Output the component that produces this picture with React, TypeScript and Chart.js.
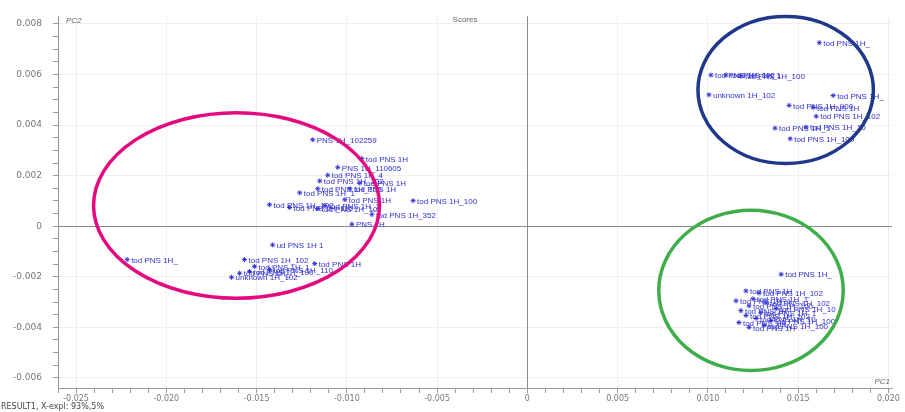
import React, { useEffect, useRef } from "react";
import { Chart, registerables } from "chart.js";

Chart.register(...registerables);

// ---- axis settings ----
const xMin = -0.026;
const xMax = 0.0202;
const yMin = -0.0064;
const yMax = 0.0083;
const xMajorStep = 0.005;
const xMinorStep = 0.001;
const yMajorStep = 0.002;
const yMinorStep = 0.0005;

// ---- left cluster ----
const leftX = [
  -0.01189, -0.00917, -0.0105, -0.01106, -0.0115, -0.00983, -0.01161, -0.00928, -0.01261,
  -0.01428, -0.01317, -0.01122, -0.01011, -0.00633, -0.00861, -0.00972, -0.01161,
  -0.01411, -0.02217, -0.01567, -0.01511, -0.01539, -0.01639, -0.01178, -0.01594, -0.01428,
];
const leftY = [
  0.00342, 0.00268, 0.00233, 0.00202, 0.00179, 0.00148, 0.00148, 0.00171, 0.00132,
  0.00085, 0.00074, 0.00082, 0.00105, 0.00101, 0.00047, 0.00008, 0.0007,
  -0.00074, -0.00132, -0.00132, -0.00159, -0.00179, -0.00202, -0.00148, -0.00186, -0.00171,
];
const leftLabels = [
  "PNS 1H_102259", "tod PNS 1H", "PNS 1H_110605", "tod PNS 1H_4", "tod PNS 1H_102", "tod PNS 1H",
  "tod PNS 1H_100", "tod PNS 1H", "tod PNS 1H_1", "tod PNS 1H_102", "tod PNS 1H_110", "tod PNS 1H_1",
  "tod PNS 1H", "tod PNS 1H_100", "tod PNS 1H_352", "PNS 1H", "tod PNS 1H_10",
  "ud PNS 1H 1", "tod PNS 1H_", "tod PNS 1H_102", "tod PNS 1H_1", "tod PNS 1H_100",
  "unknown 1H_102", "tod PNS 1H", "tod PNS 1H_", "tod PNS 1H_110",
];

// ---- upper-right cluster ----
const upperX = [0.01617, 0.01017, 0.011, 0.01183, 0.01006, 0.01694, 0.0145, 0.01583, 0.016, 0.01372, 0.01544, 0.01456];
const upperY = [0.00726, 0.00598, 0.00598, 0.00594, 0.0052, 0.00517, 0.00478, 0.0047, 0.00435, 0.00388, 0.00392, 0.00346];
const upperLabels = [
  "tod PNS 1H_", "tod PNS 1H_102", "tod PNS 1H_1", "tod PNS 1H_100", "unknown 1H_102", "tod PNS 1H_",
  "tod PNS 1H_900", "tod PNS 1H", "tod PNS 1H_102", "tod PNS 1H_1", "tod PNS 1H_10", "tod PNS 1H_100",
];

// ---- lower-right cluster ----
const lowerX = [
  0.01406, 0.01283, 0.0125, 0.01228, 0.01183, 0.01211, 0.01267, 0.01294, 0.0135, 0.01172,
  0.01228, 0.01322, 0.01156, 0.01311, 0.01211, 0.01378,
];
const lowerY = [
  -0.0019, -0.00264, -0.00287, -0.00315, -0.00334, -0.00353, -0.00365, -0.00342, -0.00373, -0.00381,
  -0.004, -0.00303, -0.00295, -0.00392, -0.00256, -0.00326,
];
const lowerLabels = [
  "tod PNS 1H_", "tod PNS 1H_102", "tod PNS 1H_1", "tod PNS 1H_100", "tod PNS 1H_", "tod PNS 1H_102",
  "tod PNS 1H_10", "tod PNS 1H_1", "tod PNS 1H_100", "tod PNS 1H_", "tod PNS 1H", "tod PNS 1H_102",
  "tod PNS 1H_1", "tod PNS 1H_100", "tod PNS 1H", "tod PNS 1H_10",
];

// ---- circled groups (centre / radius in data units) ----
const ellipseCx = [-0.01611, 0.01431, 0.01239];
const ellipseCy = [0.00082, 0.00539, -0.00254];
const ellipseRx = [0.00792, 0.00486, 0.00511];
const ellipseRy = [0.00367, 0.00291, 0.00317];
const ellipseColors = ["#e5097f", "#20388a", "#3fae4a"];

const pointColor = "#3434d8";
const labelColor = "#3030d6";
const tickFont = "'DejaVu Sans', Verdana, sans-serif";

const near = (v: number, step: number) => Math.abs(v / step - Math.round(v / step)) < 1e-6;

const stepTicks = (min: number, max: number, step: number) => {
  const out: { value: number }[] = [];
  for (let k = Math.ceil(min / step - 1e-9); k <= Math.floor(max / step + 1e-9); k++) {
    out.push({ value: Math.round(k * step * 1e6) / 1e6 });
  }
  return out;
};

const toPoints = (xs: number[], ys: number[]) => xs.map((x, i) => ({ x, y: ys[i] }));

const allLabels = [leftLabels, upperLabels, lowerLabels];

const overlay = {
  id: "overlay",
  beforeDatasetsDraw(chart: any) {
    const { ctx, chartArea: a, scales } = chart;
    const x0 = scales.x.getPixelForValue(0);
    const y0 = scales.y.getPixelForValue(0);
    ctx.save();
    ctx.strokeStyle = "#8a8a8a";
    ctx.lineWidth = 1;
    ctx.beginPath();
    ctx.moveTo(Math.round(x0) + 0.5, a.top);
    ctx.lineTo(Math.round(x0) + 0.5, a.bottom);
    ctx.moveTo(a.left, Math.round(y0) + 0.5);
    ctx.lineTo(a.right, Math.round(y0) + 0.5);
    ctx.stroke();
    ctx.restore();
  },
  afterDatasetsDraw(chart: any) {
    const { ctx, chartArea: a, scales } = chart;
    ctx.save();
    // point labels
    ctx.font = "8px 'Liberation Sans', Arial, sans-serif";
    ctx.fillStyle = labelColor;
    ctx.textAlign = "left";
    ctx.textBaseline = "middle";
    chart.data.datasets.forEach((_: any, di: number) => {
      const meta = chart.getDatasetMeta(di);
      meta.data.forEach((el: any, i: number) => {
        ctx.fillText(allLabels[di][i], el.x + 4, el.y + 1);
      });
    });
    // ellipses
    ctx.lineWidth = 3.5;
    ellipseCx.forEach((cx, i) => {
      const px = scales.x.getPixelForValue(cx);
      const py = scales.y.getPixelForValue(ellipseCy[i]);
      const rx = Math.abs(scales.x.getPixelForValue(cx + ellipseRx[i]) - px);
      const ry = Math.abs(scales.y.getPixelForValue(ellipseCy[i] + ellipseRy[i]) - py);
      ctx.strokeStyle = ellipseColors[i];
      ctx.beginPath();
      ctx.ellipse(px, py, rx, ry, 0, 0, Math.PI * 2);
      ctx.stroke();
    });
    // texts
    ctx.fillStyle = "#666";
    ctx.font = "8px 'Liberation Sans', Arial, sans-serif";
    ctx.textAlign = "center";
    ctx.fillText("Scores", (a.left + a.right) / 2 - 10, a.top + 3);
    ctx.font = "italic 8px 'Liberation Sans', Arial, sans-serif";
    ctx.textAlign = "left";
    ctx.fillText("PC2", a.left + 8, a.top + 4);
    ctx.textAlign = "right";
    ctx.fillText("PC1", a.right - 2, a.bottom - 6);
    ctx.fillStyle = "#444";
    ctx.font = "8px " + tickFont;
    ctx.textAlign = "left";
    ctx.fillText("RESULT1, X-expl: 93%,5%", 1, chart.height - 5);
    ctx.restore();
  },
};

export default function App() {
  const ref = useRef<HTMLCanvasElement | null>(null);
  useEffect(() => {
    document.body.style.margin = "0";
    if (!ref.current) return;
    const ds = (xs: number[], ys: number[]) => ({
      data: toPoints(xs, ys),
      pointStyle: "star" as const,
      pointRadius: 2.5,
      borderColor: pointColor,
      backgroundColor: pointColor,
      borderWidth: 1,
      showLine: false,
    });
    const chart = new Chart(ref.current, {
      type: "scatter",
      data: {
        datasets: [ds(leftX, leftY), ds(upperX, upperY), ds(lowerX, lowerY)],
      },
      options: {
        animation: false,
        responsive: false,
        events: [],
        layout: { padding: { top: 8, right: 13, bottom: 10, left: 0 } },
        plugins: { legend: { display: false }, tooltip: { enabled: false } },
        scales: {
          x: {
            type: "linear",
            min: xMin,
            max: xMax,
            afterBuildTicks: (s: any) => {
              s.ticks = stepTicks(xMin, xMax, xMinorStep);
            },
            afterFit: (s: any) => {
              s.height = 14;
            },
            ticks: {
              autoSkip: false,
              maxRotation: 0,
              padding: 1,
              color: "#777",
              font: { size: 8, family: tickFont },
              callback: (v: any) => {
                const n = Number(v);
                if (!near(n, xMajorStep)) return "";
                return Math.abs(n) < 1e-9 ? "0" : n.toFixed(3);
              },
            },
            grid: {
              color: (c: any) => (c.tick && near(c.tick.value, xMajorStep) ? "#efefef" : "rgba(0,0,0,0)"),
              tickColor: "#9a9a9a",
              tickLength: 5,
            },
            border: { color: "#9a9a9a" },
          },
          y: {
            type: "linear",
            min: yMin,
            max: yMax,
            afterBuildTicks: (s: any) => {
              s.ticks = stepTicks(yMin, yMax, yMinorStep);
            },
            afterFit: (s: any) => {
              s.width = 58;
            },
            ticks: {
              autoSkip: false,
              padding: 11,
              color: "#777",
              font: { size: 9, family: tickFont },
              callback: (v: any) => {
                const n = Number(v);
                if (!near(n, yMajorStep)) return "";
                return Math.abs(n) < 1e-9 ? "0" : n.toFixed(3);
              },
            },
            grid: {
              color: (c: any) => (c.tick && near(c.tick.value, yMajorStep) ? "#efefef" : "rgba(0,0,0,0)"),
              tickColor: "#9a9a9a",
              tickLength: 5,
            },
            border: { color: "#9a9a9a" },
          },
        },
      },
      plugins: [overlay],
    });
    return () => chart.destroy();
  }, []);
  return (
    <div style={{ width: 905, height: 412, background: "#fff" }}>
      <canvas ref={ref} width={905} height={412} style={{ display: "block" }} />
    </div>
  );
}
